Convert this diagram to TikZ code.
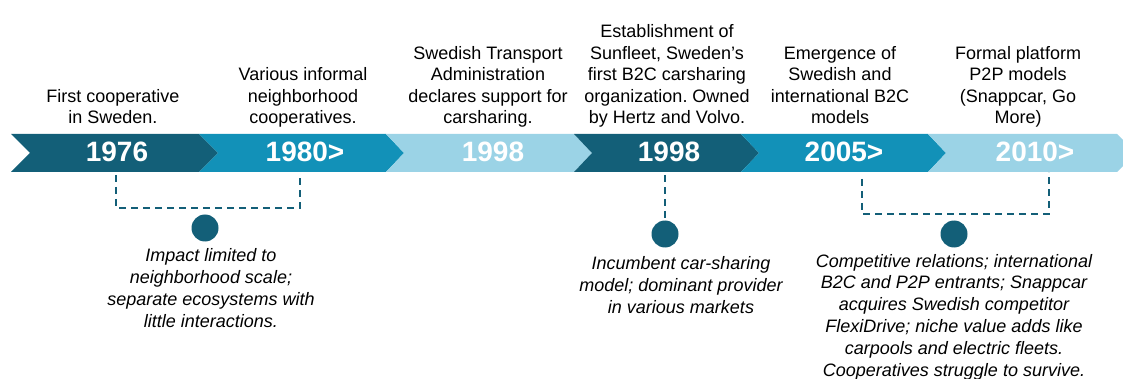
\documentclass[tikz,border=0pt]{standalone}
\usepackage{fontspec}
\setmainfont{Liberation Sans}
\frenchspacing
\definecolor{tealdark}{HTML}{135F78}
\definecolor{tealmid}{HTML}{1291B8}
\definecolor{teallight}{HTML}{9BD3E6}
% one chevron of the timeline band: colour, left top x, left notch x, right top x, right tip x
\def\chevseg#1#2#3#4#5{\fill[#1] (#2,134) -- (#4,134) -- (#5,153) -- (#4,172) -- (#2,172) -- (#3,153) -- cycle;}
\begin{document}
\begin{tikzpicture}[x=1pt,y=-1pt,
  year/.style={text=white,font=\fontsize{28}{30}\selectfont\bfseries,anchor=base,inner sep=0pt},
  event/.style={align=center,anchor=south,inner sep=0pt,outer sep=0pt,text depth=0pt,
                font=\fontsize{18}{21.6}\selectfont},
  impact/.style={event,font=\fontsize{18}{21.8}\selectfont\itshape},
  link/.style={draw=tealdark,line width=2.2pt,dash pattern=on 7pt off 5pt},
  dot/.style={circle,fill=tealdark,minimum size=27pt,inner sep=0pt}]
\useasboundingbox (0,0) rectangle (1123,379);
\begin{scope}
\clip (0,0) rectangle (1123,379);
% timeline band
\chevseg{tealdark}{11}{30}{199}{218}
\chevseg{tealmid}{199}{218}{386}{404}
\chevseg{teallight}{386}{404}{574}{592}
\chevseg{tealdark}{574}{592}{741}{759}
\chevseg{tealmid}{741}{759}{928}{946}
\chevseg{teallight}{928}{946}{1117}{1136}

% years
\node[year] (y1) at (117,161.5) {1976};
\node[year] (y2) at (305,161.5) {1980>};
\node[year] (y3) at (493,161.5) {1998};
\node[year] (y4) at (669,161.5) {1998};
\node[year] (y5) at (844,161.5) {2005>};
\node[year] (y6) at (1035,161.5) {2010>};

% events above the band
\node[event] (e1) at (113,124) {First cooperative\\in Sweden.};
\node[event] (e2) at (303,124) {Various informal\\neighborhood\\cooperatives.};
\node[event] (e3) at (488,124) {Swedish Transport\\Administration\\declares support for\\carsharing.};
\node[event] (e4) at (667,124) {Establishment of\\Sunfleet, Sweden’s\\first B2C carsharing\\organization. Owned\\by Hertz and Volvo.};
\node[event] (e5) at (840,124) {Emergence of\\Swedish and\\international B2C\\models};
\node[event] (e6) at (1018,124) {Formal platform\\P2P models\\(Snappcar, Go\\More)};

% markers
\node[dot] (d1) at (205,228) {};
\node[dot] (d2) at (665,234) {};
\node[dot] (d3) at (954,234) {};

% dashed brackets from the band
\coordinate (a1) at (116,175);
\coordinate (a2) at (300,175);
\coordinate (a3) at (665,175);
\coordinate (a4) at (862,179);
\coordinate (a5) at (1049,172);
\draw[link] (a1) -- (116,208) -- (300,208) -- (a2);
\draw[link] (a3) -- (d2.north);
\draw[link] (a4) -- (862,214) -- (1049,214) -- (a5);

% impacts below the band
\node[impact] (n1) at (211,327) {Impact limited to\\neighborhood scale;\\separate ecosystems with\\little interactions.};
\node[impact] (n2) at (681,313) {Incumbent car-sharing\\model; dominant provider\\in various markets};
\node[impact] (n3) at (954,376) {Competitive relations; international\\B2C and P2P entrants; Snappcar\\acquires Swedish competitor\\FlexiDrive; niche value adds like\\carpools and electric fleets.\\Cooperatives struggle to survive.};
\end{scope}
\end{tikzpicture}
\end{document}
